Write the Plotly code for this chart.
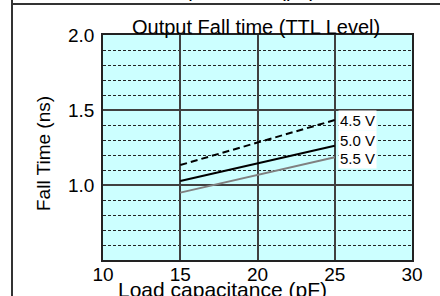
import plotly.graph_objects as go

# Data
load_pf = [15, 25]
v45 = [1.133, 1.433]
v50 = [1.027, 1.262]
v55 = [0.949, 1.185]
series_names = ["4.5 V", "5.0 V", "5.5 V"]
x_ticks = [10, 15, 20, 25, 30]
y_ticks = [1.0, 1.5, 2.0]
y_tick_text = ["1.0", "1.5", "2.0"]
y_minor_ticks = [0.6, 0.7, 0.8, 0.9, 1.1, 1.2, 1.3, 1.4, 1.6, 1.7, 1.8, 1.9]

W, H = 440, 296
L, R, T, B = 103, 28, 35, 36
pw, ph = W - L - R, H - T - B

def px(x):
    return (x - L) / pw

def py(y):
    return (H - B - y) / ph

FONT = "Arial, Liberation Sans, sans-serif"

fig = go.Figure()
fig.add_trace(go.Scatter(x=load_pf, y=v45, mode="lines", name=series_names[0],
                         line=dict(color="black", width=2, dash="7px,4px")))
fig.add_trace(go.Scatter(x=load_pf, y=v50, mode="lines", name=series_names[1],
                         line=dict(color="black", width=2)))
fig.add_trace(go.Scatter(x=load_pf, y=v55, mode="lines", name=series_names[2],
                         line=dict(color="#808080", width=2)))

label_y = [1.433, 1.30, 1.18]
for name, yy in zip(series_names, label_y):
    fig.add_annotation(x=25, y=yy, xref="x", yref="y", text=name, showarrow=False,
                       xanchor="left", yanchor="middle", xshift=3,
                       bgcolor="white", borderpad=1,
                       font=dict(family=FONT, size=15, color="black"))

# Title
fig.add_annotation(x=px(256), y=py(27), xref="paper", yref="paper",
                   text="Output Fall time (TTL Level)", showarrow=False,
                   xanchor="center", yanchor="middle",
                   font=dict(family=FONT, size=20, color="black"))
# Y title
fig.add_annotation(x=px(43), y=py(154), xref="paper", yref="paper",
                   text="Fall Time (ns)", showarrow=False, textangle=-90,
                   xanchor="center", yanchor="middle",
                   font=dict(family=FONT, size=19, color="black"))
# X title (cut off at bottom)
fig.add_annotation(x=px(222), y=py(276), xref="paper", yref="paper",
                   text="Load capacitance (pF)", showarrow=False,
                   xanchor="center", yanchor="top",
                   font=dict(family=FONT, size=21, color="black"))
# Top text from previous cell (cut off)
fig.add_annotation(x=px(216), y=py(3), xref="paper", yref="paper",
                   text="Load capacitance (pF)", showarrow=False,
                   xanchor="center", yanchor="bottom",
                   font=dict(family=FONT, size=20, color="black"))

# Table border lines
fig.add_shape(type="line", xref="paper", yref="paper",
              x0=px(12), x1=px(12), y0=py(-5), y1=py(300),
              line=dict(color="#333333", width=2))
fig.add_shape(type="line", xref="paper", yref="paper",
              x0=px(12), x1=px(445), y0=py(4), y1=py(4),
              line=dict(color="#333333", width=2))

fig.update_xaxes(range=[10, 30], tickmode="array", tickvals=x_ticks,
                 showgrid=True, gridcolor="#404040", gridwidth=1.5,
                 showline=True, mirror=True, linecolor="#222222", linewidth=1.5,
                 ticks="", ticklabelstandoff=-4, zeroline=False, automargin=False,
                 tickfont=dict(family=FONT, size=19, color="black"))
fig.update_yaxes(range=[0.5, 2.0], tickmode="array", tickvals=y_ticks,
                 ticktext=y_tick_text,
                 showgrid=True, gridcolor="#404040", gridwidth=1.5,
                 showline=True, mirror=True, linecolor="#222222", linewidth=1.5,
                 ticks="", ticklabelstandoff=3, zeroline=False, automargin=False,
                 minor=dict(tickmode="array", tickvals=y_minor_ticks, showgrid=True,
                            gridcolor="#222222", gridwidth=1,
                            griddash="3px,2px", ticks=""),
                 tickfont=dict(family=FONT, size=19, color="black"))

fig.update_layout(width=W, height=H, margin=dict(l=L, r=R, t=T, b=B, autoexpand=False),
                  paper_bgcolor="white", plot_bgcolor="#CCFFFF",
                  showlegend=False, font=dict(family=FONT))

fig.write_html("out.html", config={"displayModeBar": False},
               post_script="document.body.style.margin='0';document.body.style.overflow='hidden';")
